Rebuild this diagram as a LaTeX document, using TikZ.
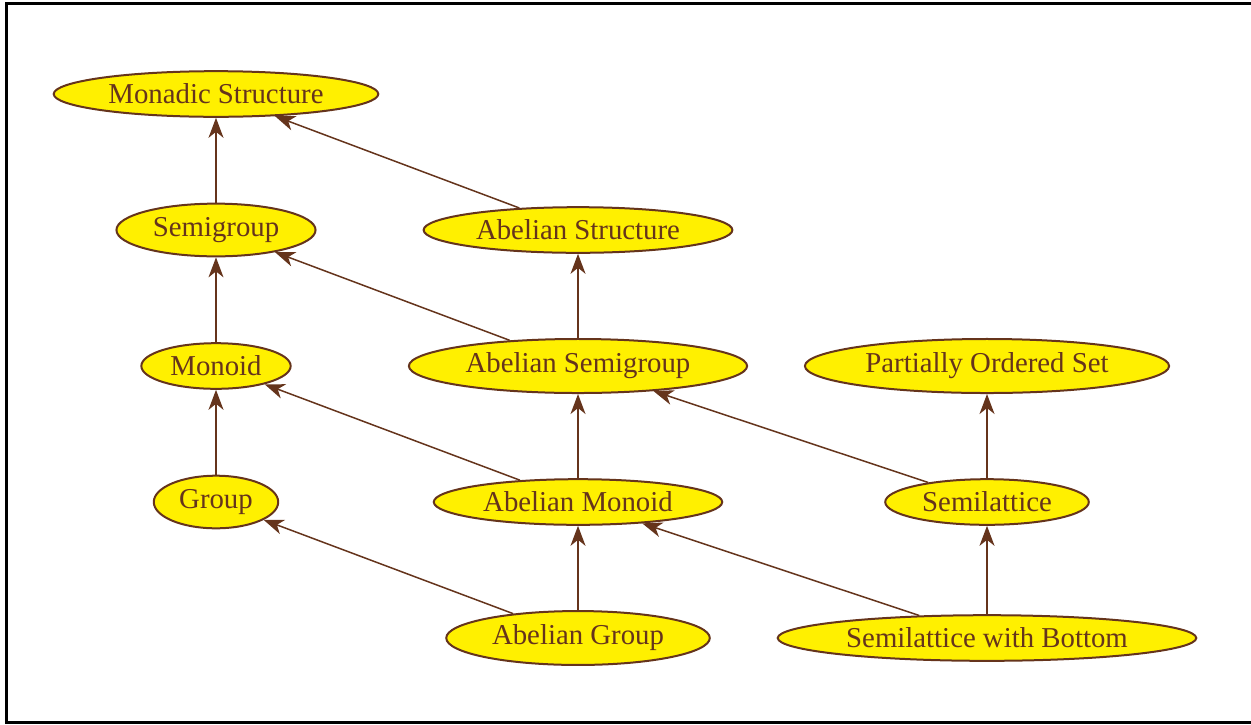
\documentclass[tikz,border=0pt]{standalone}
\usepackage{fontspec}
\setmainfont{Liberation Serif}
\usetikzlibrary{arrows.meta,shapes.geometric}
\definecolor{edgebrown}{RGB}{101,52,28}
\definecolor{nodeyellow}{RGB}{255,240,0}

\begin{document}
\begin{tikzpicture}[>={Stealth[length=10pt,width=7.5pt,inset=3pt]},->,color=edgebrown,line width=0.75pt,node distance=68pt,
  struct/.style={ellipse,draw,fill=nodeyellow,line width=1pt,inner xsep=3.6pt,inner ysep=3pt,font=\fontsize{14.4}{17}\selectfont}]
  \useasboundingbox (-108pt,47pt) rectangle (517.5pt,-315pt);
  \draw[-,black,line width=1.5pt] (-104.5pt,45.25pt) rectangle (522pt,-314pt);
  \node[struct] (MS) {Monadic Structure};
  \node[struct] (SG) [below of=MS] {Semigroup};
  \node[struct] (AS) [right of=SG,node distance=181pt] {Abelian Structure};
  \node[struct] (MO) [below of=SG] {Monoid};
  \node[struct] (ASG) [below of=AS] {Abelian Semigroup};
  \node[struct] (POS) [right of=ASG,node distance=204.5pt] {Partially Ordered Set};
  \node[struct] (GR) [below of=MO] {Group};
  \node[struct] (AM) [below of=ASG] {Abelian Monoid};
  \node[struct] (SL) [below of=POS] {Semilattice};
  \node[struct] (AG) [below of=AM] {Abelian Group};
  \node[struct] (SLB) [below of=SL] {Semilattice with Bottom};
  \path (SG) edge (MS);
  \path (AS) edge (MS);
  \path (MO) edge (SG);
  \path (ASG) edge (SG);
  \path (ASG) edge (AS);
  \path (GR) edge (MO);
  \path (AM) edge (MO);
  \path (AM) edge (ASG);
  \path (SL) edge (ASG);
  \path (SL) edge (POS);
  \path (AG) edge (GR);
  \path (AG) edge (AM);
  \path (SLB) edge (AM);
  \path (SLB) edge (SL);
\end{tikzpicture}
\end{document}
